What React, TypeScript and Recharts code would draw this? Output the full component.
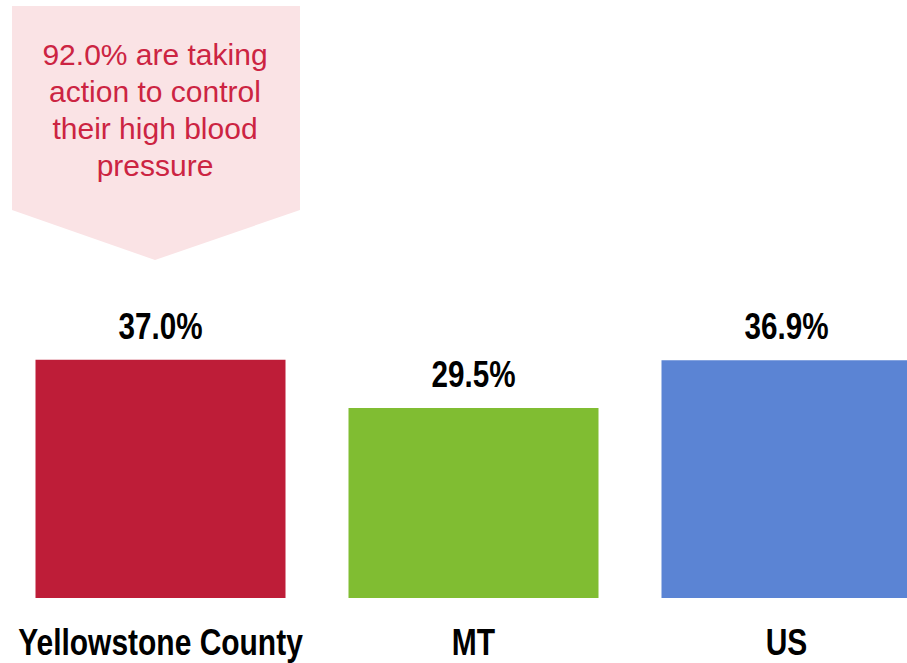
import React from "react";
import { BarChart, Bar, XAxis, YAxis, Cell, LabelList } from "recharts";

const categories = ["Yellowstone County", "MT", "US"];
const values = [37.0, 29.5, 36.9];
const colors = ["#BE1D38", "#80BD32", "#5B84D4"];
const calloutLines = ["92.0% are taking", "action to control", "their high blood", "pressure"];

const data = categories.map((name, i) => ({ name, value: values[i] }));

const FONT = "'Liberation Sans', Arial, sans-serif";

const ValueLabel = (props: any) => {
  const { x, y, width, value } = props;
  return (
    <g transform={`translate(${x + width / 2},${y - 21}) scale(0.79,1)`}>
      <text
        x={0}
        y={0}
        textAnchor="middle"
        fontFamily={FONT}
        fontWeight="bold"
        fontSize={37.5}
        fill="#000"
      >
        {Number(value).toFixed(1)}%
      </text>
    </g>
  );
};

const CatTick = (props: any) => {
  const { x, y, payload } = props;
  return (
    <g transform={`translate(${x},${y + 49}) scale(0.81,1)`}>
      <text
        x={0}
        y={0}
        textAnchor="middle"
        fontFamily={FONT}
        fontWeight="bold"
        fontSize={37}
        fill="#000"
      >
        {payload.value}
      </text>
    </g>
  );
};

export default function App() {
  return (
    <div
      style={{
        position: "fixed",
        left: 0,
        top: 0,
        width: 907,
        height: 663,
        overflow: "hidden",
        background: "#fff",
      }}
    >
      <svg
        width={907}
        height={663}
        style={{ position: "absolute", left: 0, top: 0 }}
      >
        <polygon points="12,6 300,6 300,210 155,260 12,210" fill="#FAE3E5" />
        {calloutLines.map((t, i) => (
          <text
            key={i}
            x={155}
            y={65 + i * 37}
            textAnchor="middle"
            fontFamily={FONT}
            fontSize={30}
            fill="#CC2442"
          >
            {t}
          </text>
        ))}
      </svg>
      <div style={{ position: "absolute", left: 0, top: 0 }}>
        <BarChart
          width={943}
          height={663}
          data={data}
          margin={{ top: 276, right: 0, left: 4, bottom: 0 }}
          barCategoryGap={31.5}
        >
          <XAxis
            dataKey="name"
            axisLine={false}
            tickLine={false}
            height={65}
            interval={0}
            tick={<CatTick />}
          />
          <YAxis hide domain={[0, 50]} />
          <Bar dataKey="value" isAnimationActive={false}>
            {data.map((d, i) => (
              <Cell key={d.name} fill={colors[i]} />
            ))}
            <LabelList dataKey="value" content={<ValueLabel />} />
          </Bar>
        </BarChart>
      </div>
    </div>
  );
}
